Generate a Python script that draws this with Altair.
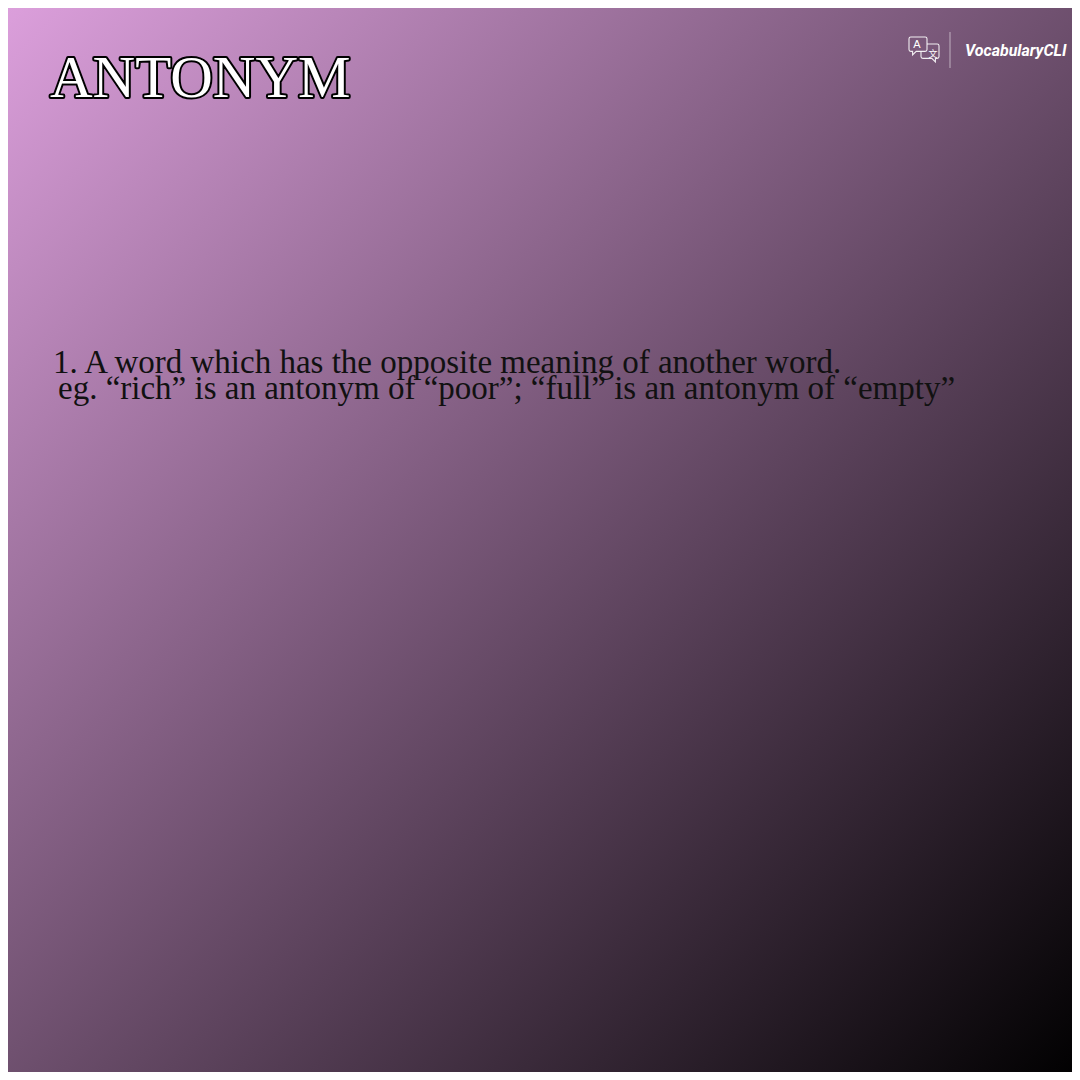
import altair as alt
import pandas as pd

# ---- content -------------------------------------------------------------
title_text = ["ANTONYM"]
definition_line_1 = ["1. A word which has the opposite meaning of another word."]
definition_line_2 = ["eg. \u201crich\u201d is an antonym of \u201cpoor\u201d; \u201cfull\u201d is an antonym of \u201cempty\u201d"]
brand_name = ["VocabularyCLI"]
icon_glyph_a = ["A"]
icon_glyph_b = ["\u6587"]

W = H = 1064
OFF = 8  # page margin

BUBBLE_LEFT = ("M -0.8 -1 L 0.8 -1 Q 1 -1 1 -0.8 L 1 0.4 Q 1 0.6 0.8 0.6 L -0.2 0.6 "
               "L -0.6 1 L -0.6 0.6 L -0.8 0.6 Q -1 0.6 -1 0.4 L -1 -0.8 Q -1 -1 -0.8 -1 Z")
BUBBLE_RIGHT = ("M -0.8 -1 L 0.8 -1 Q 1 -1 1 -0.8 L 1 0.4 Q 1 0.6 0.8 0.6 L 0.6 0.6 "
                "L 0.6 1 L 0.2 0.6 L -0.8 0.6 Q -1 0.6 -1 0.4 L -1 -0.8 Q -1 -1 -0.8 -1 Z")


def df(values):
    return pd.DataFrame({"t": values})


gradient = {
    "gradient": "linear",
    "x1": 0, "y1": 0, "x2": 1, "y2": 1,
    "stops": [
        {"offset": 0, "color": "#dda0dd"},
        {"offset": 1, "color": "#000000"},
    ],
}

background = alt.Chart(df([0])).mark_rect(color=gradient).encode(
    x=alt.value(-OFF), x2=alt.value(W + OFF), y=alt.value(-OFF), y2=alt.value(H + OFF)
)

title_outline = alt.Chart(df(title_text)).mark_text(
    font="Liberation Serif", fontSize=59, align="left", baseline="alphabetic",
    fill="black", stroke="black", strokeWidth=4, strokeJoin="round",
).encode(text="t:N", x=alt.value(42), y=alt.value(89))

title_fill = alt.Chart(df(title_text)).mark_text(
    font="Liberation Serif", fontSize=59, align="left", baseline="alphabetic",
    fill="white",
).encode(text="t:N", x=alt.value(42), y=alt.value(89))

line1 = alt.Chart(df(definition_line_1)).mark_text(
    font="Liberation Serif", fontSize=33, align="left", baseline="alphabetic",
    color="#111111",
).encode(text="t:N", x=alt.value(45), y=alt.value(365))

line2 = alt.Chart(df(definition_line_2)).mark_text(
    font="Liberation Serif", fontSize=33, align="left", baseline="alphabetic",
    color="#111111",
).encode(text="t:N", x=alt.value(50), y=alt.value(391))

separator = alt.Chart(df([0])).mark_rule(
    color="white", opacity=0.45, strokeWidth=1.2
).encode(x=alt.value(942), y=alt.value(24), y2=alt.value(60))

brand = alt.Chart(df(brand_name)).mark_text(
    font="Roboto", fontSize=16,
    fontWeight="bold", fontStyle="italic", align="left", baseline="alphabetic",
    color="white",
).encode(text="t:N", x=alt.value(957), y=alt.value(48))

bubble_b = alt.Chart(df([0])).mark_point(
    shape=BUBBLE_RIGHT, filled=False, stroke="white", strokeWidth=1.1,
    size=324, opacity=0.9,
).encode(x=alt.value(922), y=alt.value(45))

bubble_a = alt.Chart(df([0])).mark_point(
    shape=BUBBLE_LEFT, filled=True, fill="#7a587a", stroke="white",
    strokeWidth=1.1, size=324, opacity=1, fillOpacity=1, strokeOpacity=0.9,
).encode(x=alt.value(910), y=alt.value(38))

glyph_a = alt.Chart(df(icon_glyph_a)).mark_text(
    font="Liberation Sans", fontSize=11, color="white", align="center",
    baseline="middle",
).encode(text="t:N", x=alt.value(909), y=alt.value(37))

glyph_b = alt.Chart(df(icon_glyph_b)).mark_text(
    font="Noto Sans CJK SC", fontSize=9, color="white", align="center",
    baseline="middle",
).encode(text="t:N", x=alt.value(925), y=alt.value(46))

chart = alt.layer(
    background, title_outline, title_fill, line1, line2,
    separator, brand, bubble_b, bubble_a, glyph_a, glyph_b,
).properties(
    width=W, height=H, padding=0, autosize=alt.AutoSizeParams(type="none"),
    background="transparent",
).configure_view(stroke=None)

chart.save("out.html", embed_options={"renderer": "svg", "actions": False})
